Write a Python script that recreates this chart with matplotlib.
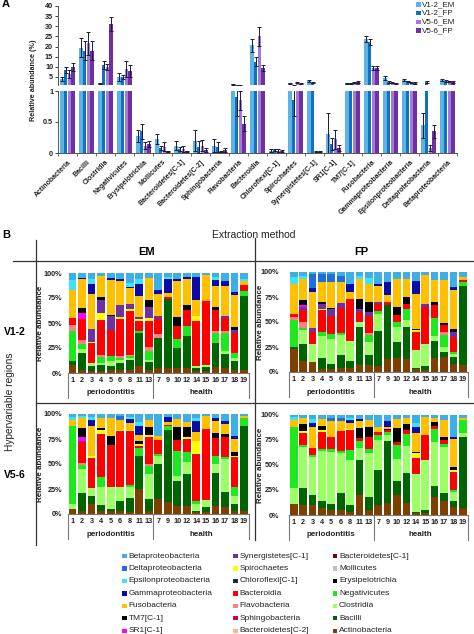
import matplotlib
matplotlib.use("Agg")
import matplotlib.pyplot as plt
import numpy as np
from matplotlib.patches import Rectangle

plt.rcParams['font.family'] = ['Liberation Sans', 'DejaVu Sans']

W, H = 474, 634
fig = plt.figure(figsize=(W / 100, H / 100), dpi=100)


def add_ax(x0, y0, x1, y1):
    return fig.add_axes([x0 / W, 1 - y1 / H, (x1 - x0) / W, (y1 - y0) / H])


# ---------------- Panel A data ----------------
classes = ["Actinobacteria", "Bacilli", "Clostridia", "Negativicutes", "Erysipelotrichia",
           "Mollicutes", "Bacteroidetes[C-1]", "Bacteroidetes[C-2]", "Sphingobacteria",
           "Flavobacteria", "Bacteroidia", "Chloroflexi[C-1]", "Spirochaetes",
           "Synergistetes[C-1]", "SR1[C-1]", "TM7[C-1]", "Fusobacteria",
           "Gammaproteobacteria", "Epsilonproteobacteria", "Deltaproteobacteria",
           "Betaproteobacteria"]
v12_em = [4.0, 19.5, 1.8, 5.0, 0.27, 0.22, 0.12, 0.20, 0.12, 1.3, 20.7, 0.04, 1.9, 3.2, 0.30, 1.8, 23.5, 4.4, 3.5, 0.45, 3.5]
v12_fp = [8.5, 18.0, 11.0, 5.0, 0.35, 0.08, 0.06, 0.10, 0.10, 0.90, 12.5, 0.05, 0.85, 2.2, 0.15, 1.9, 22.3, 2.5, 2.8, 2.4, 3.0]
v56_em = [6.5, 21.5, 10.0, 9.0, 0.12, 0.10, 0.07, 0.12, 0.02, 0.85, 25.0, 0.04, 2.2, 0.02, 0.22, 2.2, 9.5, 2.2, 2.2, 0.08, 2.8]
v56_fp = [10.0, 18.0, 31.0, 8.0, 0.14, 0.03, 0.03, 0.05, 0.05, 0.47, 9.5, 0.03, 1.6, 0.02, 0.08, 2.5, 9.5, 1.8, 2.0, 0.35, 2.5]
e12_em = [1.0, 4.5, 0.3, 2.0, 0.10, 0.08, 0.07, 0.17, 0.10, 0.10, 3.2, 0.02, 0.30, 0.5, 0.35, 0.3, 1.5, 1.0, 0.5, 0.20, 0.5]
e12_fp = [1.5, 4.5, 2.0, 1.0, 0.12, 0.03, 0.03, 0.10, 0.08, 0.30, 2.3, 0.02, 0.25, 0.4, 0.10, 0.3, 1.5, 0.5, 0.3, 0.40, 0.4]
e56_em = [2.0, 5.5, 1.5, 4.0, 0.05, 0.07, 0.05, 0.09, 0.01, 0.15, 4.7, 0.02, 0.30, 0.01, 0.15, 0.3, 1.0, 0.3, 0.3, 0.05, 0.4]
e56_fp = [2.0, 4.5, 3.5, 3.0, 0.05, 0.01, 0.01, 0.03, 0.03, 0.12, 1.6, 0.02, 0.30, 0.01, 0.05, 0.3, 1.0, 0.3, 0.3, 0.10, 0.4]
series_names = ["V1-2_EM", "V1-2_FP", "V5-6_EM", "V5-6_FP"]
series_colors = ["#5cb3e6", "#1170c0", "#a27ad8", "#7030a0"]

# ---------------- Panel B data ----------------
samples = ["1", "2", "3", "4", "5", "6", "8", "11", "13",
           "7", "9", "10", "12", "14", "15", "16", "17", "18", "19"]
n_perio = 9

# legend order (top of stack first)
taxa = ["Betaproteobacteria", "Deltaproteobacteria", "Epsilonproteobacteria",
        "Gammaproteobacteria", "Fusobacteria", "TM7[C-1]", "SR1[C-1]",
        "Synergistetes[C-1]", "Spirochaetes", "Chloroflexi[C-1]", "Bacteroidia",
        "Flavobacteria", "Sphingobacteria", "Bacteroidetes[C-2]", "Bacteroidetes[C-1]",
        "Mollicutes", "Erysipelotrichia", "Negativicutes", "Clostridia", "Bacilli",
        "Actinobacteria"]
taxa_colors = ["#3eaee6", "#1f6fd8", "#3fe3f5", "#0b0ba6", "#ffc000", "#000000", "#ff00ff",
               "#7030a0", "#ffff00", "#1c2c3c", "#ff0000", "#ff8080", "#c8004a", "#ffb48c",
               "#800000", "#c0c0c0", "#000000", "#1ee81e", "#9cff66", "#006400", "#7f3f00"]

em_v12 = {
    "Actinobacteria": [8, 3, 2, 2, 3, 3, 3, 7, 3, 5, 5, 5, 5, 2, 2, 6, 5, 3, 3],
    "Bacilli": [4, 17, 5, 6, 4, 7, 10, 33, 8, 30, 69, 20, 32, 3, 4, 24, 14, 9, 74],
    "Clostridia": [0, 4, 3, 2, 5, 3, 2, 0, 2, 0, 0, 0, 0, 2, 2, 0, 3, 3, 0],
    "Negativicutes": [30, 5, 0, 6, 5, 2, 2, 2, 9, 0, 0, 9, 10, 0, 0, 10, 18, 5, 5],
    "Flavobacteria": [6, 4, 0, 2, 0, 2, 1, 0, 4, 4, 0, 0, 0, 0, 0, 2, 2, 0, 0],
    "Bacteroidia": [7, 21, 20, 35, 26, 37, 44, 10, 26, 15, 2, 13, 16, 45, 64, 21, 13, 20, 6],
    "Spirochaetes": [0, 0, 1, 7, 0, 2, 2, 2, 3, 0, 0, 0, 0, 5, 0, 0, 0, 0, 0],
    "Synergistetes[C-1]": [0, 0, 13, 13, 14, 12, 5, 2, 11, 3, 0, 0, 0, 0, 0, 0, 2, 3, 0],
    "SR1[C-1]": [0, 6, 0, 0, 0, 0, 0, 0, 0, 0, 0, 0, 0, 0, 0, 0, 0, 0, 0],
    "TM7[C-1]": [0, 5, 0, 3, 1.5, 0, 0, 0, 7, 0, 0, 9, 5, 0, 0, 3, 0, 3, 0],
    "Fusobacteria": [28, 29, 35, 21, 35, 24, 16, 21, 22, 22, 4, 36, 26, 16, 26, 21, 30, 32, 4],
    "Gammaproteobacteria": [0, 1, 10, 0, 1.5, 2, 1, 12, 0, 4, 14, 2, 2, 23, 0, 6, 5, 3, 0],
    "Epsilonproteobacteria": [10, 0, 5, 0, 0, 0, 4, 5, 0, 0, 2, 0, 0, 0, 0, 3, 0, 0, 2],
}
fp_v12 = {
    "Actinobacteria": [23, 11, 10, 3, 3, 4, 4, 7, 7, 6, 13, 14, 13, 3, 2, 14, 15, 8, 7],
    "Bacilli": [2, 17, 0, 11, 5, 13, 7, 38, 10, 35, 54, 16, 32, 1, 4, 17, 5, 7, 79],
    "Clostridia": [0, 14, 18, 22, 25, 20, 20, 5, 13, 17, 0, 15, 7, 18, 22, 5, 5, 3, 0],
    "Negativicutes": [27, 2, 0, 4, 5, 2, 0, 0, 7, 3, 0, 5, 11, 0, 0, 18, 12, 2, 4],
    "Flavobacteria": [3, 6, 0, 0, 0, 0, 0, 0, 2, 0, 0, 0, 0, 0, 0, 0, 3, 0, 0],
    "Bacteroidia": [3, 12, 12, 22, 18, 25, 42, 10, 17, 7, 3, 7, 5, 18, 37, 13, 7, 15, 2],
    "Spirochaetes": [0, 0, 0, 1, 0, 0, 0, 0, 0, 0, 0, 0, 0, 2, 0, 0, 0, 0, 0],
    "Synergistetes[C-1]": [0, 3, 4, 5, 7, 5, 0, 3, 4, 2, 0, 0, 0, 0, 3, 0, 0, 5, 0],
    "SR1[C-1]": [0, 2, 0, 0, 0, 0, 0, 0, 0, 0, 0, 0, 0, 0, 0, 0, 0, 0, 0],
    "TM7[C-1]": [0, 5, 0, 2, 1, 0, 0, 10, 10, 0, 0, 8, 7, 1, 0, 3, 2, 3, 0],
    "Fusobacteria": [30, 21, 36, 20, 26, 21, 7, 20, 18, 16, 7, 28, 18, 35, 29, 22, 43, 39, 3],
    "Gammaproteobacteria": [0, 0, 4, 0, 0, 0, 8, 0, 0, 2, 13, 0, 0, 13, 0, 0, 0, 3, 0],
    "Epsilonproteobacteria": [7, 3, 0, 0, 0, 0, 0, 3, 6, 0, 0, 0, 0, 0, 0, 0, 0, 0, 0],
    "Deltaproteobacteria": [0, 0, 14, 8, 8, 6, 0, 0, 0, 0, 0, 0, 0, 0, 0, 0, 0, 0, 0],
}
em_v56 = {
    "Actinobacteria": [5, 3, 10, 3, 3, 3, 2, 25, 3, 15, 12, 8, 8, 2, 2, 8, 7, 3, 3],
    "Bacilli": [0, 18, 8, 6, 2, 10, 14, 33, 12, 35, 72, 25, 32, 1, 5, 33, 15, 7, 85],
    "Clostridia": [5, 24, 8, 18, 22, 14, 11, 0, 25, 8, 0, 5, 12, 7, 7, 9, 33, 8, 0],
    "Negativicutes": [78, 4, 0, 10, 0, 0, 2, 8, 8, 2, 4, 25, 10, 3, 0, 8, 2, 9, 8],
    "Flavobacteria": [0, 2, 0, 0, 0, 0, 0, 0, 2, 0, 0, 0, 0, 0, 0, 0, 0, 0, 0],
    "Bacteroidia": [0, 21, 30, 43, 42, 56, 54, 2, 27, 14, 1, 11, 13, 47, 71, 18, 20, 30, 0],
    "Spirochaetes": [0, 0, 2, 4, 0, 1, 1, 2, 2, 0, 0, 0, 2, 13, 0, 0, 0, 1, 0],
    "Synergistetes[C-1]": [0, 1, 0, 0, 0, 0, 0, 0, 0, 0, 0, 0, 0, 0, 0, 0, 0, 0, 0],
    "SR1[C-1]": [0, 4, 0, 0, 0, 0, 0, 0, 0, 0, 0, 0, 0, 0, 0, 0, 0, 0, 0],
    "TM7[C-1]": [0, 9, 0, 2, 9, 0, 0, 3, 8, 0, 0, 13, 10, 0, 0, 5, 3, 4, 0],
    "Fusobacteria": [6, 10, 30, 10, 18, 10, 7, 6, 7, 4, 3, 8, 5, 9, 13, 12, 10, 13, 2],
    "Gammaproteobacteria": [0, 0, 6, 0, 0, 0, 4, 9, 0, 0, 5, 0, 0, 11, 0, 3, 3, 3, 0],
    "Epsilonproteobacteria": [3, 2, 3, 0, 0, 0, 2, 4, 0, 0, 0, 0, 0, 3, 0, 0, 0, 0, 0],
    "Deltaproteobacteria": [0, 0, 0, 0, 0, 4, 0, 0, 0, 0, 0, 0, 0, 0, 0, 0, 0, 0, 0],
}
fp_v56 = {
    "Actinobacteria": [11, 10, 10, 7, 5, 5, 3, 20, 5, 10, 12, 20, 12, 2, 2, 18, 14, 8, 7],
    "Bacilli": [0, 17, 10, 7, 6, 17, 7, 35, 13, 35, 62, 14, 30, 1, 3, 11, 8, 6, 71],
    "Clostridia": [16, 41, 38, 50, 52, 40, 45, 12, 44, 30, 6, 22, 27, 38, 50, 44, 46, 9, 4],
    "Negativicutes": [61, 2, 2, 2, 3, 2, 10, 7, 4, 5, 3, 14, 12, 0, 0, 13, 3, 2, 13],
    "Bacteroidia": [0, 12, 7, 17, 12, 20, 20, 3, 12, 3, 2, 3, 4, 16, 25, 3, 4, 18, 0],
    "Spirochaetes": [0, 2, 0, 2, 0, 0, 1, 0, 0, 0, 0, 0, 0, 5, 0, 0, 0, 2, 0],
    "TM7[C-1]": [0, 7, 0, 4, 0, 0, 0, 10, 10, 0, 1, 14, 6, 1, 0, 4, 3, 3, 0],
    "Fusobacteria": [7, 6, 21, 7, 16, 10, 6, 7, 7, 5, 2, 9, 6, 19, 18, 4, 17, 28, 2],
    "Gammaproteobacteria": [0, 0, 4, 0, 0, 0, 3, 2, 0, 0, 6, 0, 0, 6, 0, 0, 0, 2, 0],
    "Epsilonproteobacteria": [3, 0, 4, 0, 0, 0, 2, 0, 0, 0, 0, 0, 0, 4, 0, 0, 0, 0, 0],
    "Deltaproteobacteria": [0, 0, 0, 0, 3, 3, 0, 0, 0, 0, 0, 0, 0, 0, 0, 0, 0, 0, 0],
}

# ================= Panel A =================
x = np.arange(len(classes))
offs = [-0.3, -0.1, 0.1, 0.3]
bw = 0.19
vals_all = [v12_em, v12_fp, v56_em, v56_fp]
errs_all = [e12_em, e12_fp, e56_em, e56_fp]

ax_top = add_ax(58, 6, 457, 85)
ax_bot = add_ax(58, 91, 457, 153)
for ax in (ax_top, ax_bot):
    ax.patch.set_alpha(0)
    for k in range(4):
        ax.bar(x + offs[k], vals_all[k], bw, color=series_colors[k], linewidth=0, zorder=2)
        ax.errorbar(x + offs[k], vals_all[k], yerr=errs_all[k], fmt='none',
                    ecolor='#1a1a3c', elinewidth=0.7, capsize=1.6, capthick=0.7, zorder=3)
    ax.set_xlim(-0.5, len(classes) - 0.5)
    ax.spines['top'].set_visible(False)
    ax.spines['right'].set_visible(False)
    ax.spines['left'].set_color('#555555')
    ax.spines['left'].set_linewidth(0.7)
    ax.tick_params(axis='y', labelsize=5.2, length=2, width=0.6, pad=1.5, colors='#222222')

ax_top.set_ylim(1, 40)
ax_top.set_yticks([5, 10, 15, 20, 25, 30, 35, 40])
ax_top.set_yticklabels(["5", "10", "15", "20", "25", "30", "35", "40"], fontweight='bold')
ax_top.spines['bottom'].set_visible(False)
ax_top.set_xticks([])

ax_bot.set_ylim(0, 1)
ax_bot.set_yticks([0, 0.5, 1])
ax_bot.set_yticklabels(["0", "0.5", "1"], fontweight='bold')
ax_bot.spines['bottom'].set_color('#555555')
ax_bot.spines['bottom'].set_linewidth(0.7)
ax_bot.set_xticks(x)
ax_bot.set_xticklabels(classes, rotation=45, ha='right', rotation_mode='anchor',
                       fontsize=5.0, fontweight='bold', color='#222222')
ax_bot.tick_params(axis='x', which='major', length=0, pad=4)
ax_bot.set_xticks(np.arange(-0.5, len(classes), 1.0), minor=True)
ax_bot.tick_params(axis='x', which='minor', length=2.5, width=0.6, color='#555555')

# ================= Panel B =================
stack_bottom_first = taxa[::-1]
color_of = dict(zip(taxa, taxa_colors))


def stack_panel(ax, data, tick_pad):
    xs = np.arange(len(samples))
    bottom = np.zeros(len(samples))
    for t in stack_bottom_first:
        if t == "Betaproteobacteria":
            vals = 100 - bottom
        elif t in data:
            vals = np.array(data[t], dtype=float)
        else:
            continue
        ax.bar(xs, vals, 0.82, bottom=bottom, color=color_of[t], linewidth=0)
        bottom = bottom + vals
    ax.patch.set_alpha(0)
    ax.set_xlim(-0.5, len(samples) - 0.5)
    ax.set_ylim(0, 100)
    ax.set_yticks([0, 25, 50, 75, 100])
    ax.set_yticklabels(["0%", "25%", "50%", "75%", "100%"], fontsize=5.2, fontweight='bold',
                       color='#222222')
    ax.tick_params(axis='y', length=0, pad=tick_pad)
    ax.set_xticks(xs)
    ax.set_xticklabels(samples, fontsize=5.2, fontweight='bold', color='#222222')
    ax.tick_params(axis='x', length=0, pad=3)
    for s in ('top', 'right', 'left'):
        ax.spines[s].set_visible(False)
    ax.spines['bottom'].set_color('#777777')
    ax.spines['bottom'].set_linewidth(0.8)
    for xb in (-0.5, n_perio - 0.5, len(samples) - 0.5):
        ax.plot([xb, xb], [0, -25], color='#777777', lw=0.8, clip_on=False)
    ax.text((n_perio - 1) / 2, -20, "periodontitis", ha='center', va='center',
            fontsize=5.8, fontweight='bold', color='#222222', clip_on=False)
    ax.text((n_perio + len(samples) - 1) / 2, -20, "health", ha='center', va='center',
            fontsize=5.8, fontweight='bold', color='#222222', clip_on=False)


ax_em12 = add_ax(67.7, 273, 248.8, 373)
ax_fp12 = add_ax(289, 272, 467.5, 372)
ax_em56 = add_ax(67.7, 414, 248.8, 514)
ax_fp56 = add_ax(289, 415, 467.5, 515)
stack_panel(ax_em12, em_v12, 4)
stack_panel(ax_fp12, fp_v12, 7)
stack_panel(ax_em56, em_v56, 4)
stack_panel(ax_fp56, fp_v56, 7)

# ---------------- overlay for annotations (on top, transparent) ----------------
ov = fig.add_axes([0, 0, 1, 1])
ov.set_xlim(0, W)
ov.set_ylim(H, 0)
ov.axis('off')
ov.patch.set_alpha(0)
ov.set_zorder(10)

ov.text(34, 80, "Relative abundance (%)", rotation=90, ha='center', va='center',
        fontsize=5.2, fontweight='bold', color='#222222')
ov.text(2, 4, "A", fontsize=8, fontweight='bold', va='center', ha='left')

for k in range(4):
    yy = 4.3 + 8.8 * k
    ov.add_patch(Rectangle((416, yy - 2.3), 4.6, 4.6, color=series_colors[k], lw=0))
    ov.text(422, yy, series_names[k], fontsize=5.8, va='center', ha='left', color='#222222')

for xl, yc in ((41, 323), (261, 322), (41, 464), (261, 465)):
    ov.text(xl, yc, "Relative abundance", rotation=90, ha='center', va='center',
            fontsize=5.8, fontweight='bold', color='#222222')

lc = '#333333'
ov.plot([36, 36], [240, 545], color=lc, lw=0.9)
ov.plot([13, 474], [261, 261], color=lc, lw=0.9)
ov.plot([255, 255], [238, 540], color=lc, lw=0.9)
ov.plot([36, 474], [403, 403], color=lc, lw=0.9)

ov.text(2, 235, "B", fontsize=8, fontweight='bold', va='center', ha='left')
ov.text(254, 235, "Extraction method", fontsize=7.5, ha='center', va='center', color='#222222')
ov.text(147, 252, "EM", fontsize=8, fontweight='bold', ha='center', va='center')
ov.text(361, 252, "FP", fontsize=8, fontweight='bold', ha='center', va='center')
ov.text(15, 332, "V1-2", fontsize=7.5, fontweight='bold', ha='center', va='center')
ov.text(15, 475, "V5-6", fontsize=7.5, fontweight='bold', ha='center', va='center')
ov.text(10, 402, "Hypervariable regions", fontsize=7.3, rotation=90, ha='center', va='center',
        color='#222222')

col_x = [122.5, 233.5, 333]
for i, t in enumerate(taxa):
    c, r = divmod(i, 7)
    yy = 556 + 12.45 * r
    ov.add_patch(Rectangle((col_x[c], yy - 2.2), 4.4, 4.4, color=taxa_colors[i], lw=0))
    ov.text(col_x[c] + 6, yy, t, fontsize=6.0, va='center', ha='left', color='#222222')

fig.savefig("out.png", dpi=100)
